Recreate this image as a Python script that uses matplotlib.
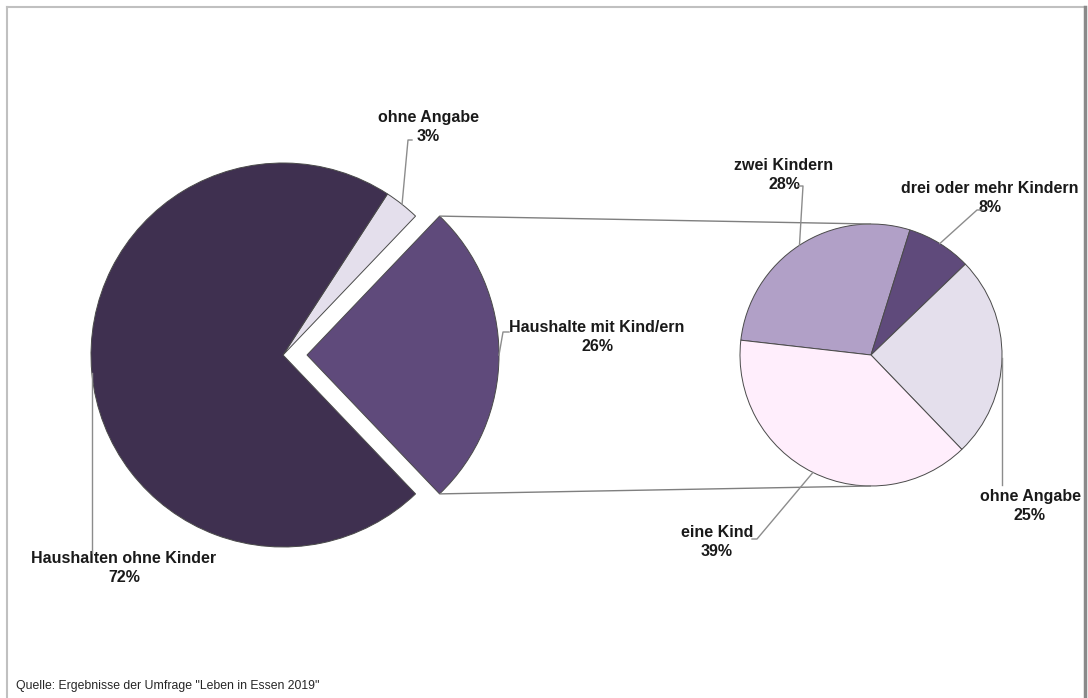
import numpy as np
import matplotlib
matplotlib.use("Agg")
import matplotlib.pyplot as plt

# ---------------- data ----------------
main_labels = ["Haushalte mit Kind/ern", "ohne Angabe", "Haushalten ohne Kinder"]
main_values = [26, 3, 72]
main_colors = ["#5F4A7B", "#E4DFEC", "#3F3050"]

sub_labels = ["zwei Kindern", "drei oder mehr Kindern", "ohne Angabe", "eine Kind"]
sub_values = [28, 8, 25, 39]
sub_colors = ["#B1A0C7", "#5F4A7B", "#E4DFEC", "#FFEEFC"]

source = 'Quelle: Ergebnisse der Umfrage "Leben in Essen 2019"'

W, H = 1088, 698
plt.rcParams['font.family'] = ['Liberation Sans', 'DejaVu Sans']

fig = plt.figure(figsize=(W / 100, H / 100), dpi=100)
ax = fig.add_axes([0, 0, 1, 1])


def Y(p):
    return H - p


# ---------------- main pie ----------------
main_center = (283, Y(355))
main_r = 192
tot = sum(main_values)
start_main = -main_values[0] / tot * 360 / 2
wedges_main, _ = ax.pie(main_values, colors=main_colors, radius=main_r,
                        center=main_center, startangle=start_main,
                        counterclock=True, explode=[24, 0, 0],
                        wedgeprops=dict(edgecolor="#4a4a4a", linewidth=0.7),
                        frame=True)

# ---------------- sub pie ----------------
sub_center = (871, Y(355))
sub_r = 131
wedges_sub, _ = ax.pie(sub_values, colors=sub_colors, radius=sub_r,
                       center=sub_center, startangle=173.5,
                       counterclock=False,
                       wedgeprops=dict(edgecolor="#4a4a4a", linewidth=0.7),
                       frame=True)

# ---------------- connector lines ----------------
w = wedges_main[0]
cx, cy = w.center
for ang, sign in ((w.theta2, 1), (w.theta1, -1)):
    px = cx + w.r * np.cos(np.radians(ang))
    py = cy + w.r * np.sin(np.radians(ang))
    ax.plot([px, sub_center[0]], [py, sub_center[1] + sign * sub_r],
            color="#7f7f7f", lw=1.0, zorder=1, solid_capstyle="butt")


def rim(wd):
    mid = np.radians((wd.theta1 + wd.theta2) / 2)
    x0, y0 = wd.center
    return x0 + wd.r * np.cos(mid), y0 + wd.r * np.sin(mid)


def label(wd, text, pos, elbow):
    ax.text(pos[0], Y(pos[1]), text, ha="center", va="center",
            fontsize=11.5, fontweight="bold", color="#1a1a1a",
            linespacing=1.28)
    xs = [e[0] for e in elbow]
    ys = [Y(e[1]) for e in elbow]
    rx, ry = rim(wd)
    xs.append(rx)
    ys.append(ry)
    ax.plot(xs, ys, color="#8c8c8c", lw=1.0, zorder=5)


label(wedges_main[1], f"{main_labels[1]}\n{main_values[1]}%", (428, 127),
      [(412, 140), (408, 140)])
label(wedges_main[0], f"{main_labels[0]}\n{main_values[0]}%", (597, 337),
      [(509, 332), (503, 332)])
wm2 = wedges_main[2]
label(wm2, f"{main_labels[2]}\n{main_values[2]}%", (124, 568),
      [(rim(wm2)[0], 553)])

label(wedges_sub[0], f"{sub_labels[0]}\n{sub_values[0]}%", (784, 175),
      [(798, 186), (803, 186)])
label(wedges_sub[1], f"{sub_labels[1]}\n{sub_values[1]}%", (990, 198),
      [(983, 210), (977, 210)])
ws2 = wedges_sub[2]
label(ws2, f"{sub_labels[2]}\n{sub_values[2]}%", (1030, 506),
      [(rim(ws2)[0], 485)])
label(wedges_sub[3], f"{sub_labels[3]}\n{sub_values[3]}%", (717, 542),
      [(752, 539), (757, 539)])

# ---------------- source ----------------
ax.text(16, Y(686), source, ha="left", va="center", fontsize=8.8,
        color="#262626")

# ---------------- frame ----------------
ax.plot([7, 7], [Y(H + 5), Y(7)], color="#c0c0c0", lw=1.5)
ax.plot([7, 1085], [Y(7), Y(7)], color="#c0c0c0", lw=1.5)
ax.plot([1085, 1085], [Y(7), Y(H + 5)], color="#8a8a8a", lw=2.5)

ax.set_xlim(0, W)
ax.set_ylim(0, H)
ax.set_aspect("equal")
ax.axis("off")

fig.savefig("out.png", dpi=100, facecolor="white")
